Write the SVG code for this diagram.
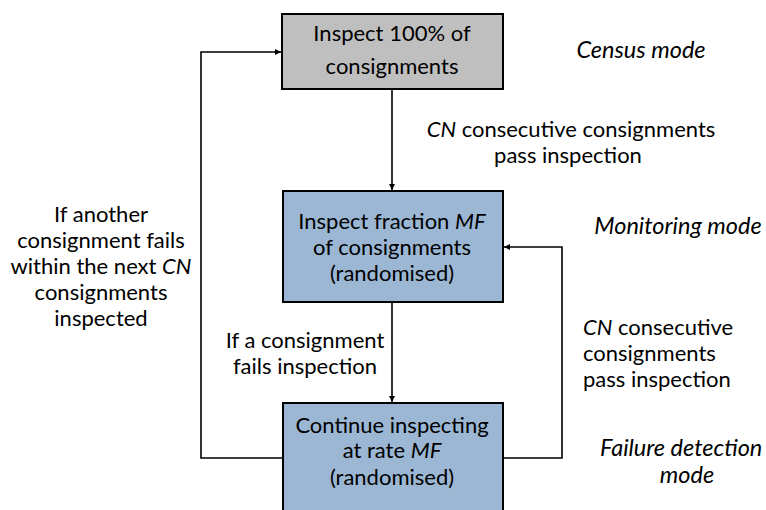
<svg xmlns="http://www.w3.org/2000/svg" width="766" height="510" viewBox="0 0 766 510">
<style>
text{font-family:Lato,"Liberation Sans",sans-serif;font-size:22px;fill:#000}
.c{text-anchor:middle}
.i{font-style:italic}
.m{font-size:23.5px}
.box{stroke:#000;stroke-width:2}
.gray{fill:#BFBFBF}
.blue{fill:#9BB7D4}
.ln{fill:none;stroke:#000;stroke-width:1.6}
</style>
<defs>
<marker id="ah" markerUnits="userSpaceOnUse" markerWidth="8" markerHeight="8" refX="6" refY="3" orient="auto">
<path d="M0,0 L6,3 L0,6 Z" fill="#000"/>
</marker>
</defs>
<rect width="766" height="510" fill="#fff"/>
<g id="connectors">
<path class="ln" d="M392,89 V190" marker-end="url(#ah)"/>
<path class="ln" d="M392,302 V402" marker-end="url(#ah)"/>
<path class="ln" d="M283,458 H201 V52 H281" marker-end="url(#ah)"/>
<path class="ln" d="M503,458 H562 V247 H504" marker-end="url(#ah)"/>
</g>
<g id="census">
<rect class="box gray" x="282" y="14" width="221" height="75"/>
<text class="c" x="392" y="41">Inspect 100% of</text>
<text class="c" x="392" y="74">consignments</text>
</g>
<g id="monitoring">
<rect class="box blue" x="283" y="191" width="220" height="111"/>
<text class="c" x="392" y="229">Inspect fraction <tspan class="i">MF</tspan></text>
<text class="c" x="392" y="255">of consignments</text>
<text class="c" x="392" y="281">(randomised)</text>
</g>
<g id="failure">
<rect class="box blue" x="283" y="403" width="220" height="120"/>
<text class="c" x="392" y="433">Continue inspecting</text>
<text class="c" x="392" y="458">at rate <tspan class="i">MF</tspan></text>
<text class="c" x="392" y="485">(randomised)</text>
</g>
<g id="labels">
<text class="c i m" x="641" y="58">Census mode</text>
<text class="c" x="571" y="137"><tspan class="i">CN</tspan> consecutive consignments</text>
<text class="c" x="568" y="163">pass inspection</text>
<text class="c i m" x="678" y="234">Monitoring mode</text>
<text class="c" x="101" y="222">If another</text>
<text class="c" x="101" y="248">consignment fails</text>
<text class="c" x="101" y="274">within the next <tspan class="i">CN</tspan></text>
<text class="c" x="101" y="300">consignments</text>
<text class="c" x="101" y="326">inspected</text>
<text class="c" x="305" y="348">If a consignment</text>
<text class="c" x="305" y="374">fails inspection</text>
<text x="583" y="335"><tspan class="i">CN</tspan> consecutive</text>
<text x="583" y="361">consignments</text>
<text x="583" y="387">pass inspection</text>
<text class="i m" x="600" y="456">Failure detection</text>
<text class="c i m" x="687" y="483">mode</text>
</g>
</svg>
